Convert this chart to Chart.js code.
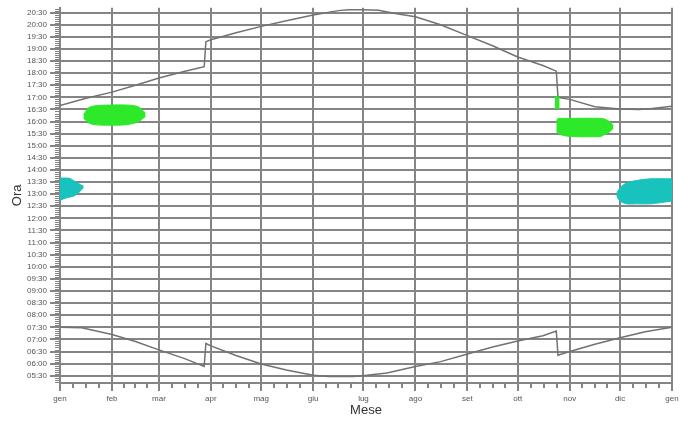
<!DOCTYPE html>
<html>
<head>
<meta charset="utf-8">
<script src="https://cdn.jsdelivr.net/npm/chart.js@4.4.1/dist/chart.umd.min.js"></script>
<style>
  html, body { margin: 0; padding: 0; background: #fff; }
  #wrap { width: 688px; height: 421px; }
</style>
</head>
<body>
<div id="wrap"><canvas id="chart" width="688" height="421"></canvas></div>
<script>
// months (day of year where each month starts)
const monthLabels = ["gen", "feb", "mar", "apr", "mag", "giu", "lug", "ago", "set", "ott", "nov", "dic", "gen"];
const monthStarts = [0, 31, 59, 90, 120, 151, 181, 212, 243, 273, 304, 334, 365];

const hourTicks = ["05:30", "06:00", "06:30", "07:00", "07:30", "08:00", "08:30", "09:00", "09:30", "10:00",
  "10:30", "11:00", "11:30", "12:00", "12:30", "13:00", "13:30", "14:00", "14:30", "15:00", "15:30",
  "16:00", "16:30", "17:00", "17:30", "18:00", "18:30", "19:00", "19:30", "20:00", "20:30"];

// sunset (upper line)
const sunsetDays = [0, 15, 31, 45, 59, 74, 86, 87, 90, 105, 120, 135, 151, 166, 172, 181, 190, 200, 212, 227,
  243, 258, 273, 288, 296, 297, 304, 319, 334, 345, 352, 365];
const sunsetTimes = ["16:40", "16:57", "17:13", "17:30", "17:48", "18:04", "18:16", "19:18", "19:23", "19:40",
  "19:56", "20:10", "20:24", "20:35", "20:37", "20:37", "20:36", "20:28", "20:20", "20:00", "19:33", "19:08",
  "18:40", "18:19", "18:05", "17:00", "16:55", "16:37", "16:31", "16:30", "16:32", "16:38"];

// sunrise (lower line)
const sunriseDays = [0, 13, 25, 31, 45, 59, 74, 86, 87, 90, 105, 120, 135, 151, 160, 175, 183, 195, 212, 227,
  243, 258, 273, 288, 296, 297, 304, 319, 334, 349, 365];
const sunriseTimes = ["07:30", "07:29", "07:18", "07:12", "06:55", "06:34", "06:13", "05:53", "06:50", "06:44",
  "06:20", "05:59", "05:44", "05:31", "05:28", "05:28", "05:31", "05:37", "05:53", "06:05", "06:24", "06:41",
  "06:56", "07:09", "07:21", "06:21", "06:30", "06:48", "07:04", "07:19", "07:30"];

// green areas
const green1Days = [14, 17, 21, 30, 39, 46.5, 51];
const green1Top = ["16:16", "16:34", "16:39", "16:41", "16:41", "16:37", "16:21"];
const green1Bottom = ["16:09", "15:57", "15:52", "15:51", "15:52", "15:59", "16:13"];

const green2Days = [296, 297, 300, 304, 322, 325, 328, 330];
const green2Top = ["16:03", "16:07", "16:08", "16:08", "16:08", "16:06", "15:59", "15:50"];
const green2Bottom = ["15:35", "15:31", "15:26", "15:23", "15:23", "15:28", "15:35", "15:44"];

const green3Days = [295, 298];
const green3Top = ["17:01", "17:01"];
const green3Bottom = ["16:32", "16:32"];

// cyan areas
const cyan1Days = [0, 4, 6, 8, 10, 12, 14];
const cyan1Top = ["13:40", "13:40", "13:39", "13:34", "13:29", "13:24", "13:20"];
const cyan1Bottom = ["12:45", "12:51", "12:53", "12:55", "13:00", "13:07", "13:17"];

const cyan2Days = [332, 334, 338, 344, 352, 365];
const cyan2Top = ["13:02", "13:16", "13:28", "13:34", "13:38", "13:38"];
const cyan2Bottom = ["12:56", "12:43", "12:36", "12:36", "12:36", "12:43"];

const GRID = "#858585";
const GREEN = "#2ee82a";
const CYAN = "#18c2bd";

function toH(s) {
    const [h, m] = s.split(":").map(Number);
    return h + m / 60;
}
function pts(days, times) {
    return days.map((d, i) => ({ x: d, y: toH(times[i]) }));
}
function area(days, top, bottom, color, tension) {
    return [
        { data: pts(days, bottom), borderColor: color, borderWidth: 1, pointRadius: 0, fill: false, tension: tension },
        { data: pts(days, top), borderColor: color, borderWidth: 1, pointRadius: 0, fill: "-1", backgroundColor: color, tension: tension },
    ];
}
function curve(days, times) {
    return { data: pts(days, times), borderColor: "#727272", borderWidth: 1.5, pointRadius: 0, fill: false, tension: 0 };
}

// small ticks between the labelled ones
const minorTicks = {
    id: "minorTicks",
    afterDraw(chart) {
        const { ctx, chartArea, scales } = chart;
        ctx.save();
        ctx.strokeStyle = GRID;
        ctx.lineWidth = 2;
        for (let i = 0; i < monthStarts.length - 1; i++) {
            const len = monthStarts[i + 1] - monthStarts[i];
            for (let k = 1; k < 4; k++) {
                const px = Math.round(scales.x.getPixelForValue(monthStarts[i] + len * k / 4));
                ctx.beginPath();
                ctx.moveTo(px, chartArea.bottom);
                ctx.lineTo(px, chartArea.bottom + 5);
                ctx.stroke();
            }
        }
        ctx.lineWidth = 1;
        for (let m = 5 * 60 + 15; m <= 20 * 60 + 40; m += 5) {
            if (m % 30 === 0) continue;
            const py = Math.round(scales.y.getPixelForValue(m / 60)) + 0.5;
            ctx.beginPath();
            ctx.moveTo(chartArea.left - 5, py);
            ctx.lineTo(chartArea.left, py);
            ctx.stroke();
        }
        ctx.restore();
    }
};

Chart.defaults.font.family = "'Liberation Sans', Arial, sans-serif";

new Chart(document.getElementById("chart").getContext("2d"), {
    type: "line",
    data: {
        datasets: [
            ...area(green1Days, green1Top, green1Bottom, GREEN, 0.3),
            ...area(green2Days, green2Top, green2Bottom, GREEN, 0.3),
            ...area(green3Days, green3Top, green3Bottom, GREEN, 0),
            ...area(cyan1Days, cyan1Top, cyan1Bottom, CYAN, 0.3),
            ...area(cyan2Days, cyan2Top, cyan2Bottom, CYAN, 0.3),
            curve(sunsetDays, sunsetTimes),
            curve(sunriseDays, sunriseTimes),
        ],
    },
    options: {
        animation: false,
        responsive: false,
        devicePixelRatio: 1,
        layout: { padding: { top: 5, right: 16, left: 0, bottom: 0 } },
        plugins: { legend: { display: false }, tooltip: { enabled: false } },
        scales: {
            x: {
                type: "linear",
                min: 0,
                max: 365,
                z: 1,
                afterBuildTicks: (s) => { s.ticks = monthStarts.map((v) => ({ value: v })); },
                afterFit: (s) => { s.height = 38; },
                ticks: {
                    autoSkip: false,
                    maxRotation: 0,
                    padding: 3,
                    color: "#555",
                    font: { size: 8 },
                    callback: (v, i) => monthLabels[i],
                },
                grid: { color: GRID, lineWidth: 2, tickLength: 8 },
                border: { color: GRID, width: 2 },
                title: { display: true, text: "Mese", color: "#333", font: { size: 13 }, padding: { top: 0, bottom: 2.5 } },
            },
            y: {
                min: 5.2,
                max: 20.7,
                z: 1,
                afterBuildTicks: (s) => { s.ticks = hourTicks.map((t) => ({ value: toH(t) })); },
                afterFit: (s) => { s.width = 60; },
                ticks: {
                    autoSkip: false,
                    padding: 3,
                    color: "#555",
                    font: { size: 8 },
                    callback: (v, i) => hourTicks[i],
                },
                grid: { color: GRID, lineWidth: 2, tickLength: 10 },
                border: { color: GRID, width: 2 },
                title: { display: true, text: "Ora", color: "#333", font: { size: 13 }, padding: { top: 10, bottom: 0 } },
            },
        },
    },
    plugins: [minorTicks],
});
</script>
</body>
</html>
